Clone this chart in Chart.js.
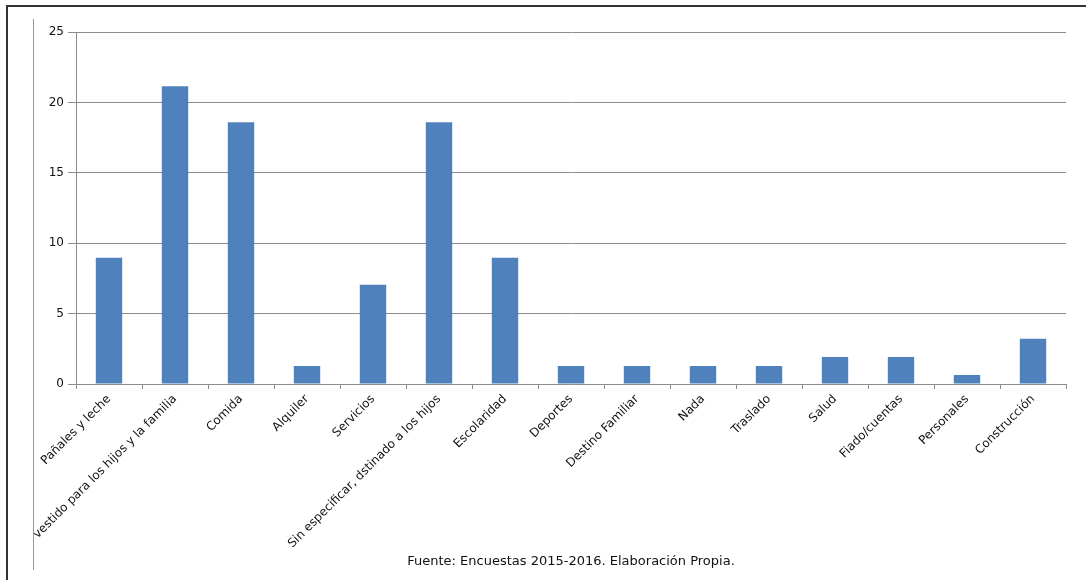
<!DOCTYPE html>
<html>
<head>
<meta charset="utf-8">
<script src="https://cdn.jsdelivr.net/npm/chart.js@4"></script>
<style>
  html, body { margin: 0; background: #fff; overflow: hidden; width: 1086px; height: 580px; }
  #frame { position: absolute; left: 6px; top: 5px; width: 1080px; height: 575px;
           border-top: 2px solid #333; border-left: 2px solid #333; box-sizing: border-box; }
  #inner { position: absolute; left: 33px; top: 19px; width: 1px; height: 551px; background: #999; }
  #wrap { position: absolute; left: 34px; top: 8px; width: 1046px; height: 568px; }
</style>
</head>
<body>
<div id="frame"></div>
<div id="inner"></div>
<div id="wrap"><canvas id="c"></canvas></div>
<script>
const categories = [
    'Pañales y leche',
    'Ropa y vestido para los hijos y la familia',
    'Comida',
    'Alquiler',
    'Servicios',
    'Sin especificar, dstinado a los hijos',
    'Escolaridad',
    'Deportes',
    'Destino Familiar',
    'Nada',
    'Traslado',
    'Salud',
    'Fiado/cuentas',
    'Personales',
    'Construcción'
];
const values = [8.97, 21.15, 18.59, 1.28, 7.05, 18.59, 8.97, 1.28, 1.28, 1.28, 1.28, 1.92, 1.92, 0.64, 3.21];
const yTicks = [0, 5, 10, 15, 20, 25];
const source = 'Fuente: Encuestas 2015-2016. Elaboración Propia.';

const font = { family: 'DejaVu Sans', size: 12 };

new Chart(document.getElementById('c'), {
    type: 'bar',
    data: {
	labels: categories,
	datasets: [{
	    data: values,
	    backgroundColor: '#4F81BD',
	    categoryPercentage: 0.8,
	    barPercentage: 0.5
	}]
    },
    options: {
	responsive: true,
	maintainAspectRatio: false,
	animation: false,
	layout: { padding: { top: 24, left: 0, right: 14, bottom: 6.4 } },
	plugins: {
	    legend: { display: false },
	    tooltip: { enabled: false },
	    title: {
		display: true,
		text: source,
		position: 'bottom',
		fullSize: false,
		color: '#111',
		font: { family: 'DejaVu Sans', size: 13, weight: 'normal' },
		padding: { top: 0, bottom: 0 }
	    }
	},
	scales: {
	    x: {
		grid: { offset: true, drawOnChartArea: false, drawTicks: true, tickLength: 5, color: '#8c8c8c' },
		border: { color: '#8c8c8c' },
		ticks: {
		    autoSkip: false, minRotation: 45, maxRotation: 45,
		    color: '#111', font: font, padding: 3
		},
		afterFit: (scale) => {
		    // fixed height so the long labels don't squash the plot
		    scale.height = 170;
		    scale.paddingLeft = 0;
		    scale.paddingRight = 0;
		}
	    },
	    y: {
		min: 0, max: 25,
		afterBuildTicks: (scale) => { scale.ticks = yTicks.map(v => ({ value: v })); },
		grid: { color: '#8c8c8c', tickLength: 8 },
		border: { color: '#8c8c8c' },
		ticks: { color: '#111', font: font, padding: 4 },
		afterFit: (scale) => { scale.width = 42; }
	    }
	}
    }
});
</script>
</body>
</html>
